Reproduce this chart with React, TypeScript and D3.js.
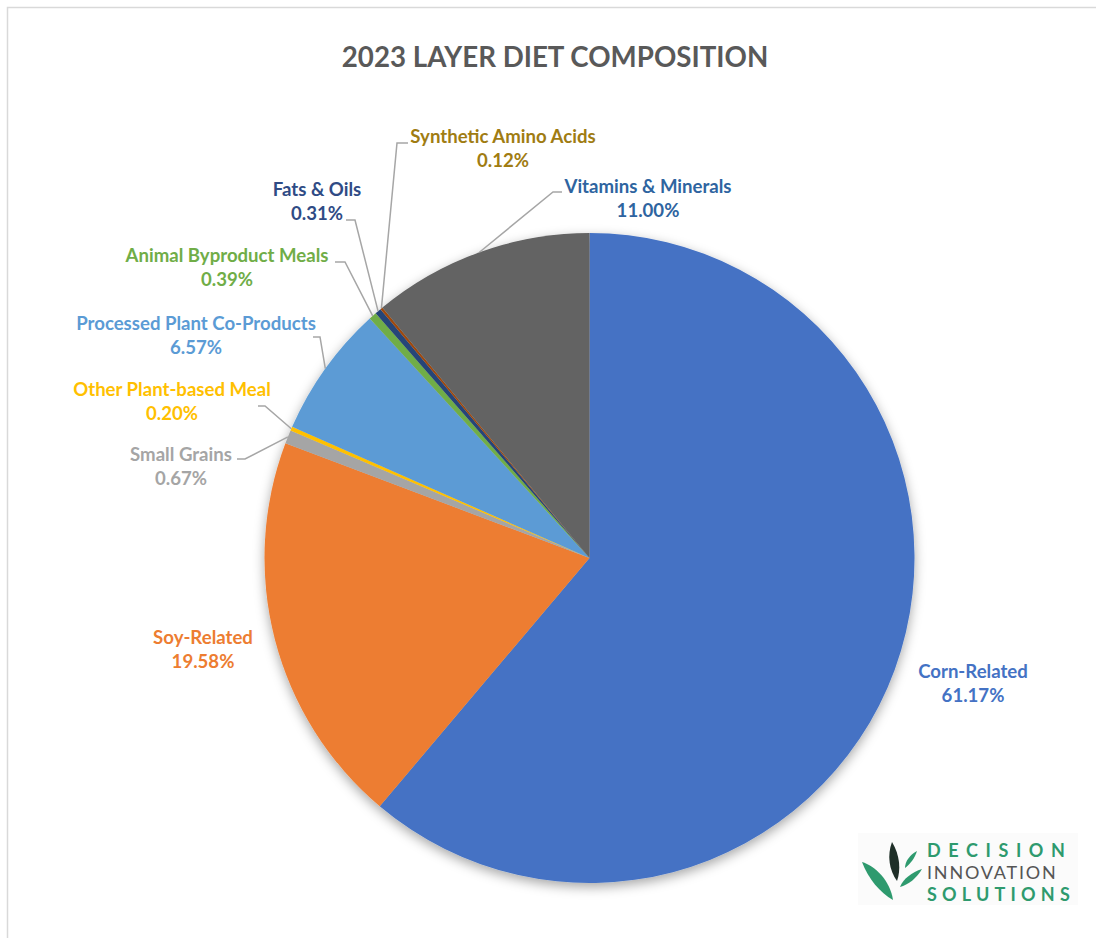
import React from "react";
import * as d3 from "d3";

const categories = [
  "Corn-Related",
  "Soy-Related",
  "Small Grains",
  "Other Plant-based Meal",
  "Processed Plant Co-Products",
  "Animal Byproduct Meals",
  "Fats & Oils",
  "Synthetic Amino Acids",
  "Vitamins & Minerals",
];
const shares = [61.17, 19.58, 0.67, 0.2, 6.57, 0.39, 0.31, 0.12, 11.0];
const sliceColors = ["#4472C4", "#ED7D31", "#A5A5A5", "#FFC000", "#5B9BD5", "#70AD47", "#264478", "#9E480E", "#636363"];
const labelColors = ["#4472C4", "#ED7D31", "#A5A5A5", "#FFC000", "#5B9BD5", "#70AD47", "#2F4B85", "#A07C12", "#2E64A0"];
const title = "2023 LAYER DIET COMPOSITION";

const labelLayout: { x: number; y: number; leader: null | { ax: number; ay: number; bx: number; by: number } }[] = [
  { x: 973, y: 678, leader: null },
  { x: 203, y: 644, leader: null },
  { x: 181, y: 461, leader: { ax: 237, ay: 459, bx: 245, by: 459 } },
  { x: 172, y: 396, leader: { ax: 258, ay: 406, bx: 265, by: 406 } },
  { x: 196, y: 330, leader: { ax: 313, ay: 337, bx: 320, by: 337 } },
  { x: 227, y: 262, leader: { ax: 335, ay: 262, bx: 345, by: 262 } },
  { x: 317, y: 196, leader: { ax: 346, ay: 220, bx: 355, by: 220 } },
  { x: 503, y: 143, leader: { ax: 408, ay: 143, bx: 397, by: 143 } },
  { x: 648, y: 193, leader: { ax: 562, ay: 192, bx: 553, by: 192 } },
];

const cx = 589.5;
const cy = 558;
const R = 325;

export default function App() {
  const data = categories.map((c, i) => ({ name: c, value: shares[i], i }));
  const pie = d3.pie<any>().value((d) => d.value).sort(null).startAngle(0).endAngle(2 * Math.PI);
  const arcs = pie(data);
  const arc = d3.arc<any>().innerRadius(0).outerRadius(R);
  const edge = (a: any) => {
    const m = (a.startAngle + a.endAngle) / 2;
    return [cx + R * Math.sin(m), cy - R * Math.cos(m)];
  };
  const font = "Lato, 'Open Sans', sans-serif";
  return (
    <svg width={1096} height={938} style={{ position: "absolute", left: 0, top: 0, background: "#fff" }}>
      <defs>
        <filter id="sh" x="-20%" y="-20%" width="140%" height="140%">
          <feDropShadow dx="0" dy="4" stdDeviation="6" floodColor="#000" floodOpacity="0.35" />
        </filter>
      </defs>
      <rect x={0} y={0} width={1096} height={938} fill="#fff" />
      <path d="M7.5,938 L7.5,7.5 L1096,7.5" fill="none" stroke="#d9d9d9" strokeWidth={1.5} />
      <text x={555} y={67} textAnchor="middle" fontFamily={font} fontWeight={700} fontSize={27.7} fill="#595959">
        {title}
      </text>
      <g transform={`translate(${cx},${cy})`} filter="url(#sh)">
        {arcs.map((a) => (
          <path key={a.data.name} d={arc(a) || ""} fill={sliceColors[a.data.i]} />
        ))}
      </g>
      {arcs.map((a) => {
        const L = labelLayout[a.data.i];
        if (!L.leader) return null;
        const [ex, ey] = edge(a);
        return (
          <polyline
            key={"l" + a.data.name}
            points={`${L.leader.ax},${L.leader.ay} ${L.leader.bx},${L.leader.by} ${ex},${ey}`}
            fill="none"
            stroke="#A6A6A6"
            strokeWidth={1.5}
          />
        );
      })}
      {arcs.map((a) => {
        const L = labelLayout[a.data.i];
        return (
          <text
            key={"t" + a.data.name}
            x={L.x}
            y={L.y}
            textAnchor="middle"
            fontFamily={font}
            fontWeight={700}
            fontSize={18.6}
            fill={labelColors[a.data.i]}
          >
            <tspan x={L.x}>{a.data.name}</tspan>
            <tspan x={L.x} dy={24}>
              {a.data.value.toFixed(2) + "%"}
            </tspan>
          </text>
        );
      })}
      <g>
        <rect x={858} y={833} width={220} height={72} fill="#fbfbfb" />
        <path d="M862,862 C875,866 890,880 893,900 C880,893 868,878 862,862 Z" fill="#2E9A6E" />
        <path d="M892,842 C900,855 901,870 897,881 C889,870 887,855 892,842 Z" fill="#1F2F28" />
        <path d="M917,851 C915,858 910,864 905,868 C905,861 910,855 917,851 Z" fill="#2E9A6E" />
        <path d="M922,869 C917,878 908,885 900,887 C903,879 912,872 922,869 Z" fill="#2E9A6E" />
        <text x={927} y={857} fontFamily={font} fontWeight={700} fontSize={18} fill="#2E9A6E" letterSpacing={7.6}>
          DECISION
        </text>
        <text x={927} y={879} fontFamily={font} fontWeight={400} fontSize={18} fill="#555" letterSpacing={1.8}>
          INNOVATION
        </text>
        <text x={927} y={901} fontFamily={font} fontWeight={700} fontSize={18} fill="#2E9A6E" letterSpacing={5.2}>
          SOLUTIONS
        </text>
      </g>
    </svg>
  );
}
